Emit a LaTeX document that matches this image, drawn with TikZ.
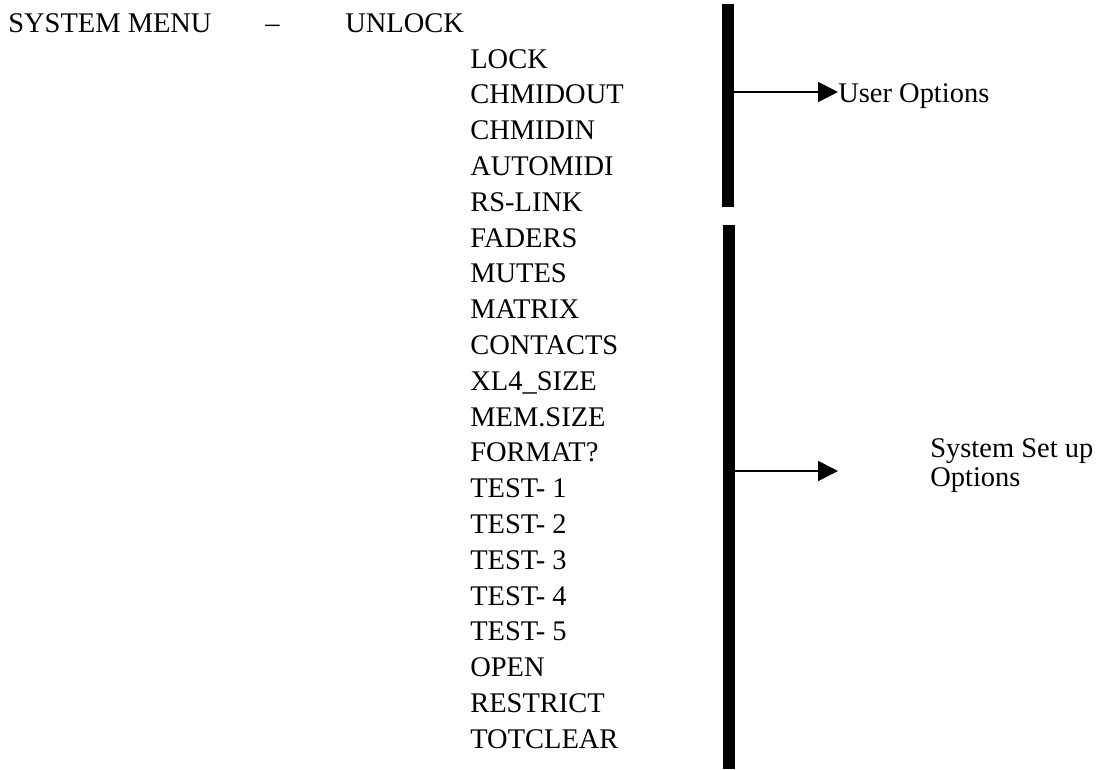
\documentclass[tikz,border=0pt]{standalone}
\usepackage{fontspec}
\setmainfont{Liberation Serif}
\usetikzlibrary{arrows.meta,positioning}

\begin{document}
\begin{tikzpicture}[x=0.02cm, y=-0.02cm,
	item/.style={anchor=base west, inner sep=0pt, font=\fontsize{16.2}{20}\selectfont},
	tip/.style={-{Triangle[length=0.4cm, width=0.4cm]}, line width=1.1pt},
	bar/.style={line width=0.24cm}]

	% ---- parameters

	\def\rowgap{35.8}
	\def\firstrow{68}

	% ---- frame

	\useasboundingbox (0,0) rectangle (1107,769);

	% ---- heading

	\node[item] (menu) at (8,32) {SYSTEM MENU};
	\node[item] (dash) at (265,32) {--};
	\node[item] (unlock) at (345,32) {UNLOCK};

	% ---- menu items

	\foreach \name [count=\i] in {LOCK, CHMIDOUT, CHMIDIN, AUTOMIDI, RS-LINK,
		FADERS, MUTES, MATRIX, CONTACTS, XL4\_SIZE, MEM.SIZE, FORMAT?,
		TEST- 1, TEST- 2, TEST- 3, TEST- 4, TEST- 5, OPEN, RESTRICT, TOTCLEAR}
	{ \node[item] (item\i) at (470,{\firstrow+(\i-1)*\rowgap}) {\name}; }

	% ---- bars

	\coordinate (B1) at (728,4);
	\coordinate (B2) at (728,207);
	\coordinate (B3) at (729,225);
	\coordinate (B4) at (729,769);

	\draw[bar] (B1) -- (B2);
	\draw[bar] (B3) -- (B4);

	% ---- group labels

	\node[item] (user) at (838,102) {User Options};
	\node[item] (setup) at (930,457) {System Set up};
	\node[item] (setupb) at (930,486) {Options};

	% ---- arrows

	\coordinate (A1) at (734,92);
	\coordinate (A2) at (735,471);
	\coordinate (T2) at (838,471);

	\draw[tip] (A1) -- (A1 -| user.west);
	\draw[tip] (A2) -- (T2);

\end{tikzpicture}
\end{document}
